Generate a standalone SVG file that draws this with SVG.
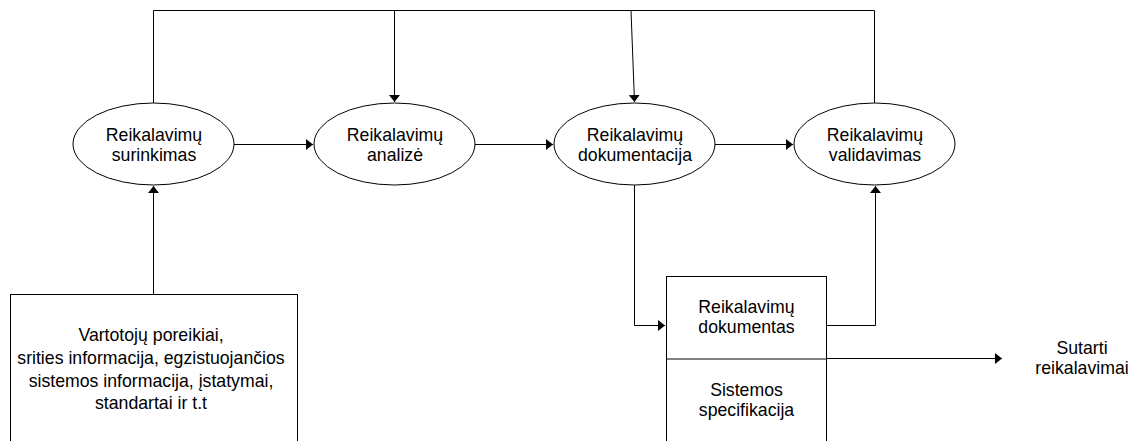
<svg xmlns="http://www.w3.org/2000/svg" width="1138" height="441" viewBox="0 0 1138 441">
  <defs>
    <marker id="arrow" markerUnits="userSpaceOnUse" markerWidth="7" markerHeight="11" refX="7" refY="5.5" orient="auto">
      <path d="M0,0 L7,5.5 L0,11 Z" fill="#000"/>
    </marker>
    <style>
      .shape { fill: #fff; stroke: #000; stroke-width: 1; }
      .line { fill: none; stroke: #000; stroke-width: 1; }
      .lbl { font-family: "Liberation Sans", Arial, sans-serif; font-size: 17.7px; fill: #000; text-anchor: middle; }
    </style>
  </defs>

  <rect width="1138" height="441" fill="#fff"/>

  <!-- connectors -->
  <g id="connectors">
    <!-- feedback bus along the top -->
    <path class="line" d="M153.5,103 V10.5 H874.5 V103"/>
    <path class="line" d="M394.5,10.5 V102" marker-end="url(#arrow)"/>
    <path class="line" d="M631,10.5 L634.5,102" marker-end="url(#arrow)"/>
    <!-- main flow between activities -->
    <path class="line" d="M234,144.5 H313" marker-end="url(#arrow)"/>
    <path class="line" d="M475,144.5 H553" marker-end="url(#arrow)"/>
    <path class="line" d="M715,144.5 H793" marker-end="url(#arrow)"/>
    <!-- inputs into elicitation -->
    <path class="line" d="M153.5,294 V186" marker-end="url(#arrow)"/>
    <!-- documentation to document and back to validation -->
    <path class="line" d="M634.5,185 V325.5 H665" marker-end="url(#arrow)"/>
    <path class="line" d="M827,325.5 H875.5 V186" marker-end="url(#arrow)"/>
    <!-- agreed requirements output -->
    <path class="line" d="M827,358.5 H1002" marker-end="url(#arrow)"/>
  </g>

  <g id="elicitation">
    <ellipse class="shape" cx="153.5" cy="144" rx="80.5" ry="41"/>
    <text class="lbl" x="154" y="141">Reikalavimų</text>
    <text class="lbl" x="154" y="160.5">surinkimas</text>
  </g>

  <g id="analysis">
    <ellipse class="shape" cx="394.5" cy="144" rx="80.5" ry="41"/>
    <text class="lbl" x="395" y="141">Reikalavimų</text>
    <text class="lbl" x="395" y="160.5">analizė</text>
  </g>

  <g id="documentation">
    <ellipse class="shape" cx="634.5" cy="144" rx="80.5" ry="41"/>
    <text class="lbl" x="635" y="141">Reikalavimų</text>
    <text class="lbl" x="635" y="160.5">dokumentacija</text>
  </g>

  <g id="validation">
    <ellipse class="shape" cx="874.5" cy="144" rx="80.5" ry="41"/>
    <text class="lbl" x="875" y="141">Reikalavimų</text>
    <text class="lbl" x="875" y="160.5">validavimas</text>
  </g>

  <g id="inputs">
    <rect class="shape" x="10.5" y="294.5" width="287" height="160"/>
    <text class="lbl" x="151" y="341">Vartotojų poreikiai,</text>
    <text class="lbl" x="151" y="364">srities informacija, egzistuojančios</text>
    <text class="lbl" x="151" y="387">sistemos informacija, įstatymai,</text>
    <text class="lbl" x="151" y="409">standartai ir t.t</text>
  </g>

  <g id="document">
    <rect class="shape" x="666.5" y="276.5" width="160" height="180"/>
    <line class="line" x1="666.5" y1="359" x2="826.5" y2="359"/>
    <text class="lbl" x="746.5" y="313">Reikalavimų</text>
    <text class="lbl" x="746.5" y="333">dokumentas</text>
    <text class="lbl" x="746.5" y="396">Sistemos</text>
    <text class="lbl" x="746.5" y="416">specifikacija</text>
  </g>

  <g id="agreed">
    <text class="lbl" x="1082" y="354">Sutarti</text>
    <text class="lbl" x="1082" y="374">reikalavimai</text>
  </g>
</svg>
